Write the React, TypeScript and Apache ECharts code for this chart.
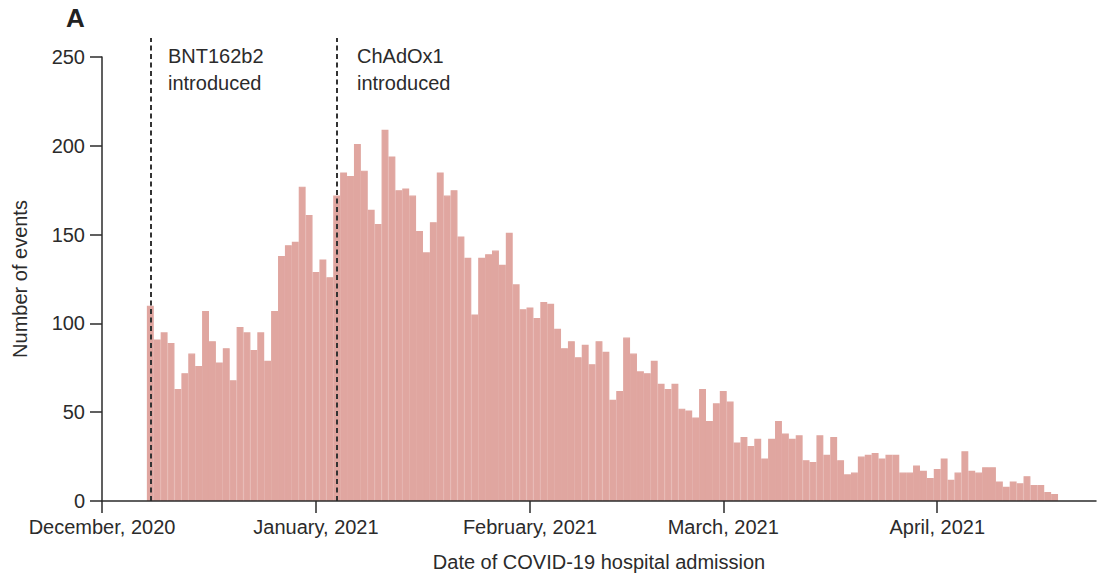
import React, { useEffect, useRef } from "react";
import * as echarts from "echarts";

// ---- data ----
const axisStartDate = "2020-12-01";
const axisEndDate = "2021-04-24";
const firstBarDate = "2020-12-08";
// daily COVID-19 hospital admissions, 8 Dec 2020 -> 18 Apr 2021
const decValues = [110, 91, 95, 89, 63, 72, 83, 76, 107, 90, 78, 86, 68, 98, 95, 85, 95, 79, 107, 138, 144, 146, 177, 161];
const janValues = [129, 136, 126, 172, 185, 183, 201, 186, 164, 156, 209, 194, 175, 176, 172, 152, 140, 157, 185, 172, 175, 149, 137, 105, 137, 139, 141, 133, 151, 122, 108];
const febValues = [109, 103, 112, 111, 97, 86, 90, 81, 88, 77, 90, 84, 57, 62, 92, 83, 73, 72, 79, 66, 63, 66, 52, 51, 47, 63, 45, 55];
const marValues = [62, 56, 33, 36, 31, 35, 24, 35, 45, 38, 35, 37, 23, 22, 37, 26, 36, 23, 15, 16, 25, 26, 27, 24, 26, 26, 16, 16, 20, 17, 13];
const aprValues = [18, 24, 12, 16, 28, 17, 16, 19, 19, 11, 8, 11, 10, 14, 9, 9, 5, 4];
const dailyAdmissions = [...decValues, ...janValues, ...febValues, ...marValues, ...aprValues];

const monthTickLabels: Record<string, string> = {
  "2020-12-01": "December, 2020",
  "2021-01-01": "January, 2021",
  "2021-02-01": "February, 2021",
  "2021-03-01": "March, 2021",
  "2021-04-01": "April, 2021",
};
const vaccineEvents = [
  { date: "2020-12-08", label: "BNT162b2\nintroduced" },
  { date: "2021-01-04", label: "ChAdOx1\nintroduced" },
];
const yMax = 250;
const yInterval = 50;

// ---- helpers ----
function buildDates(start: string, end: string): string[] {
  const out: string[] = [];
  const d = new Date(start + "T00:00:00Z");
  const e = new Date(end + "T00:00:00Z");
  while (d.getTime() <= e.getTime()) {
    out.push(d.toISOString().slice(0, 10));
    d.setUTCDate(d.getUTCDate() + 1);
  }
  return out;
}

const FONT = '"Liberation Sans", Arial, sans-serif';
const TEXT = "#2b2b2b";
const AXIS = "#2b2b2b";
const BAR = "#e0a6a0";
const FS = 20;

export default function App() {
  const ref = useRef<HTMLDivElement>(null);
  useEffect(() => {
    if (!ref.current) return;
    const chart = echarts.init(ref.current, undefined, { renderer: "svg" });
    const dates = buildDates(axisStartDate, axisEndDate);
    const offset = dates.indexOf(firstBarDate);
    const barData = dates.map((_, i) => {
      const k = i - offset;
      return k >= 0 && k < dailyAdmissions.length ? dailyAdmissions[k] : "-";
    });
    const isMonthStart = (_: number, v: string) => v.endsWith("-01");

    const left = 102;
    const right = 1;
    const bottom = 81;

    chart.setOption({
      animation: false,
      backgroundColor: "#ffffff",
      textStyle: { fontFamily: FONT },
      grid: [
        { left, right, top: 57, bottom, containLabel: false, outerBoundsMode: "none" },
        { left, right, top: 38, bottom, containLabel: false, outerBoundsMode: "none" },
      ],
      xAxis: [
        {
          type: "category",
          gridIndex: 0,
          data: dates,
          boundaryGap: false,
          name: "Date of COVID-19 hospital admission",
          nameLocation: "middle",
          nameGap: 51,
          nameTextStyle: { fontSize: FS, color: TEXT, fontFamily: FONT },
          axisLine: { show: true, lineStyle: { color: AXIS, width: 1.5 } },
          axisTick: { show: true, interval: isMonthStart, length: 12, lineStyle: { color: AXIS, width: 1.5 } },
          axisLabel: {
            interval: isMonthStart,
            formatter: (v: string) => monthTickLabels[v] ?? "",
            fontSize: FS,
            color: TEXT,
            fontFamily: FONT,
            margin: 16,
          },
          splitLine: { show: false },
          z: 5,
        },
        {
          type: "category",
          gridIndex: 1,
          data: dates,
          boundaryGap: false,
          show: false,
        },
      ],
      yAxis: [
        {
          type: "value",
          gridIndex: 0,
          min: 0,
          max: yMax,
          interval: yInterval,
          name: "Number of events",
          nameLocation: "middle",
          nameGap: 72,
          nameTextStyle: { fontSize: FS, color: TEXT, fontFamily: FONT },
          axisLine: { show: true, lineStyle: { color: AXIS, width: 1.5 } },
          axisTick: { show: true, length: 12, lineStyle: { color: AXIS, width: 1.5 } },
          axisLabel: { fontSize: FS, color: TEXT, fontFamily: FONT, margin: 17 },
          splitLine: { show: false },
        },
        { type: "value", gridIndex: 1, min: 0, max: 1, show: false },
      ],
      series: [
        {
          type: "bar",
          xAxisIndex: 0,
          yAxisIndex: 0,
          data: barData,
          barCategoryGap: "0%",
          barWidth: "100%",
          itemStyle: { color: BAR, borderColor: BAR, borderWidth: 1.2 },
          silent: true,
        },
        {
          type: "line",
          xAxisIndex: 1,
          yAxisIndex: 1,
          data: [],
          silent: true,
          z: 10,
          markLine: {
            silent: true,
            symbol: "none",
            label: { show: false },
            lineStyle: { type: [5, 3.5], color: "#333333", width: 2 },
            data: vaccineEvents.map((e) => ({ xAxis: e.date })),
          },
        },
      ],
      graphic: [
        {
          type: "text",
          left: 66,
          top: 5,
          style: { text: "A", fontSize: 26, fontWeight: "bold", fill: "#222", fontFamily: FONT },
        },
        {
          type: "text",
          left: 168,
          top: 42,
          style: { text: vaccineEvents[0].label, fontSize: FS, lineHeight: 27, fill: TEXT, fontFamily: FONT },
        },
        {
          type: "text",
          left: 357,
          top: 42,
          style: { text: vaccineEvents[1].label, fontSize: FS, lineHeight: 27, fill: TEXT, fontFamily: FONT },
        },
      ],
    });
    return () => chart.dispose();
  }, []);
  return (
    <div
      ref={ref}
      style={{ position: "fixed", left: 0, top: 0, width: 1097, height: 582 }}
    />
  );
}
